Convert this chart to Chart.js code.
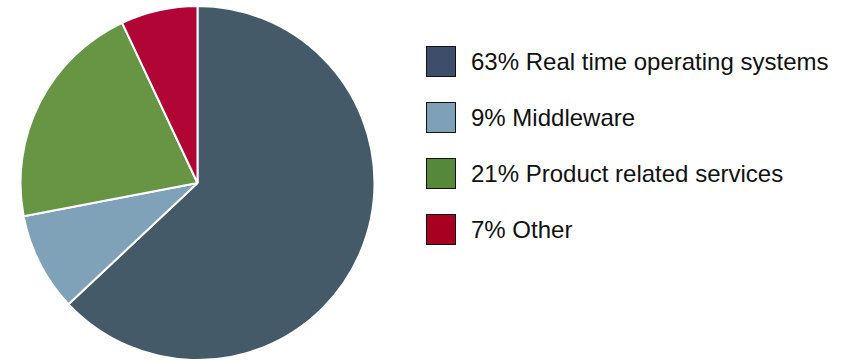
<!DOCTYPE html>
<html>
<head>
<meta charset="utf-8">
<script src="https://cdn.jsdelivr.net/npm/chart.js@4"></script>
<style>
    html, body { margin: 0; padding: 0; background: #fff; }
    body { width: 850px; height: 361px; position: relative; overflow: hidden; font-family: "Liberation Sans", Arial, sans-serif; }
    #pie-wrap { position: absolute; left: 19px; top: 5px; width: 357px; height: 356px; }
    #legend { position: absolute; left: 426px; top: 46px; margin: 0; padding: 0; list-style: none; }
    #legend li { display: flex; align-items: center; height: 31px; margin-bottom: 25px; font-size: 24px; color: #111; }
    #legend .box { width: 28px; height: 29px; border: 1px solid #111; margin-right: 15px; box-sizing: content-box; }
</style>
</head>
<body>
<div id="pie-wrap"><canvas id="share-chart"></canvas></div>
<ul id="legend"></ul>
<script>
const labels = ['Real time operating systems', 'Middleware', 'Product related services', 'Other'];
const shares = [63, 9, 21, 7];
const sliceColors = ['#445a69', '#80a2b8', '#679544', '#b00535'];
const legendColors = ['#3e4e6a', '#7fa1b8', '#558839', '#a80020'];

const ctx = document.getElementById('share-chart').getContext('2d');

new Chart(ctx, {
    type: 'pie',
    data: {
        labels: labels,
        datasets: [{
            data: shares,
            backgroundColor: sliceColors,
            borderColor: '#ffffff',
            borderWidth: 2
        }]
    },
    options: {
        responsive: true,
        maintainAspectRatio: false,
        animation: false,
        layout: { padding: 0 },
        plugins: {
            legend: { display: false },
            tooltip: { enabled: false }
        }
    }
});

// legend list on the right, one row per category
const legend = document.getElementById('legend');
labels.forEach((name, i) => {
    const li = document.createElement('li');
    const box = document.createElement('span');
    box.className = 'box';
    box.style.background = legendColors[i];
    li.appendChild(box);
    li.appendChild(document.createTextNode(`${shares[i]}% ${name}`));
    legend.appendChild(li);
});
</script>
</body>
</html>
